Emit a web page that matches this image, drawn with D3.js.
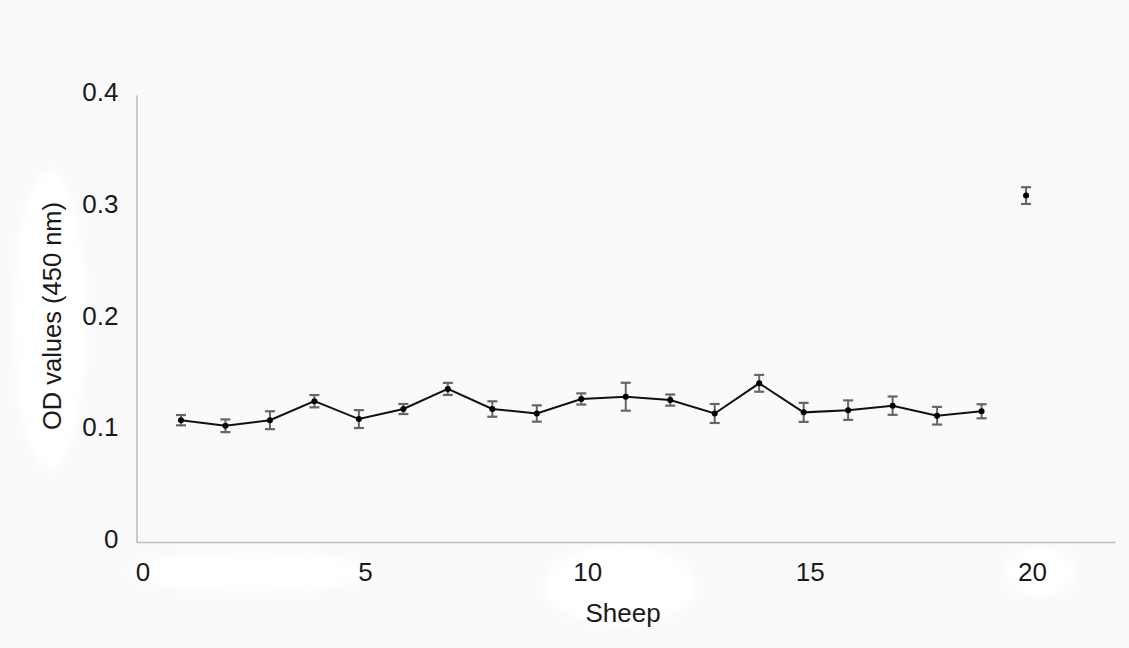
<!DOCTYPE html>
<html>
<head>
<meta charset="utf-8">
<script src="https://cdn.jsdelivr.net/npm/d3@7"></script>
<style>
  html, body { margin: 0; padding: 0; background: #fafafa; }
  svg { display: block; }
  text { font-family: "Liberation Sans", Arial, sans-serif; fill: #1a1a1a; }
</style>
</head>
<body>
<svg id="chart" width="1129" height="648"></svg>
<script>
const sheep = [1,2,3,4,5,6,7,8,9,10,11,12,13,14,15,16,17,18,19,20];
const odValues = [0.109,0.104,0.109,0.126,0.110,0.119,0.137,0.119,0.115,0.128,0.130,0.127,0.115,0.142,0.116,0.118,0.122,0.113,0.117,0.310];
const errors = [0.0046,0.0057,0.008,0.0055,0.008,0.0045,0.0054,0.0069,0.0073,0.005,0.0125,0.005,0.0085,0.0075,0.0085,0.0087,0.0082,0.0079,0.0063,0.0075];
const connected = [true,true,true,true,true,true,true,true,true,true,true,true,true,true,true,true,true,true,true,false];
const xTicks = [0,5,10,15,20];
const yTicks = [0,0.1,0.2,0.3,0.4];
const yTickLabels = ["0","0.1","0.2","0.3","0.4"];

const svg = d3.select("#chart");
const x = d3.scaleLinear().domain([0,22]).range([136.5,1115]);
const y = d3.scaleLinear().domain([0,0.4]).range([542,95]);

const data = sheep.map((s,i)=>({s, v: odValues[i], e: errors[i], c: connected[i]}));

// faint white patches of the scanned background
const defs = svg.append("defs");
defs.append("filter").attr("id", "soft").attr("x", "-20%").attr("y", "-20%").attr("width", "140%").attr("height", "140%")
  .append("feGaussianBlur").attr("stdDeviation", 4);
const blobs = svg.append("g").attr("fill", "#ffffff").attr("filter", "url(#soft)");
blobs.append("ellipse").attr("cx", 50).attr("cy", 320).attr("rx", 36).attr("ry", 150);
blobs.append("ellipse").attr("cx", 250).attr("cy", 572).attr("rx", 120).attr("ry", 20);
blobs.append("ellipse").attr("cx", 620).attr("cy", 585).attr("rx", 75).attr("ry", 40);
blobs.append("ellipse").attr("cx", 1040).attr("cy", 572).attr("rx", 36).attr("ry", 24);

const axisColor = "#bdbdbd";
const xAxis = svg.append("g").attr("transform", `translate(0,${y(0)})`)
  .call(d3.axisBottom(x).tickValues(xTicks).tickSize(0).tickPadding(21).tickFormat(d3.format("d")));
xAxis.select(".domain").attr("stroke", axisColor).attr("stroke-width", 1.6);
xAxis.selectAll("text").attr("font-size", 26).attr("dx", 6).attr("font-family", "Liberation Sans, Arial, sans-serif").attr("fill", "#1a1a1a");

const yAxis = svg.append("g").attr("transform", `translate(${x(0)},0)`)
  .call(d3.axisLeft(y).tickValues(yTicks).tickSize(0).tickPadding(18).tickFormat((d,i)=>yTickLabels[i]));
yAxis.select(".domain").attr("stroke", axisColor).attr("stroke-width", 1.6);
yAxis.selectAll("text").attr("font-size", 26).attr("dy", "0.22em").attr("font-family", "Liberation Sans, Arial, sans-serif").attr("fill", "#1a1a1a");

// error bars
const eb = svg.append("g").attr("stroke", "#666666").attr("stroke-width", 2);
data.forEach(d => {
  const cx = x(d.s);
  eb.append("line").attr("x1", cx).attr("x2", cx).attr("y1", y(d.v+d.e)).attr("y2", y(d.v-d.e));
  eb.append("line").attr("x1", cx-5).attr("x2", cx+5).attr("y1", y(d.v+d.e)).attr("y2", y(d.v+d.e)).attr("stroke-width", 2.2);
  eb.append("line").attr("x1", cx-5).attr("x2", cx+5).attr("y1", y(d.v-d.e)).attr("y2", y(d.v-d.e)).attr("stroke-width", 2.2);
});

// line
const line = d3.line().x(d=>x(d.s)).y(d=>y(d.v));
svg.append("path").datum(data.filter(d=>d.c))
  .attr("d", line).attr("fill","none").attr("stroke","#111").attr("stroke-width",2);

// points
svg.append("g").selectAll("circle").data(data).join("circle")
  .attr("cx", d=>x(d.s)).attr("cy", d=>y(d.v)).attr("r", 3).attr("fill", "#000");

// titles
svg.append("text").attr("x", 623).attr("y", 622).attr("text-anchor","middle")
  .attr("font-size", 26).text("Sheep");
svg.append("text").attr("transform","translate(61,316) rotate(-90)").attr("text-anchor","middle")
  .attr("font-size", 25.5).text("OD values (450 nm)");
</script>
</body>
</html>
